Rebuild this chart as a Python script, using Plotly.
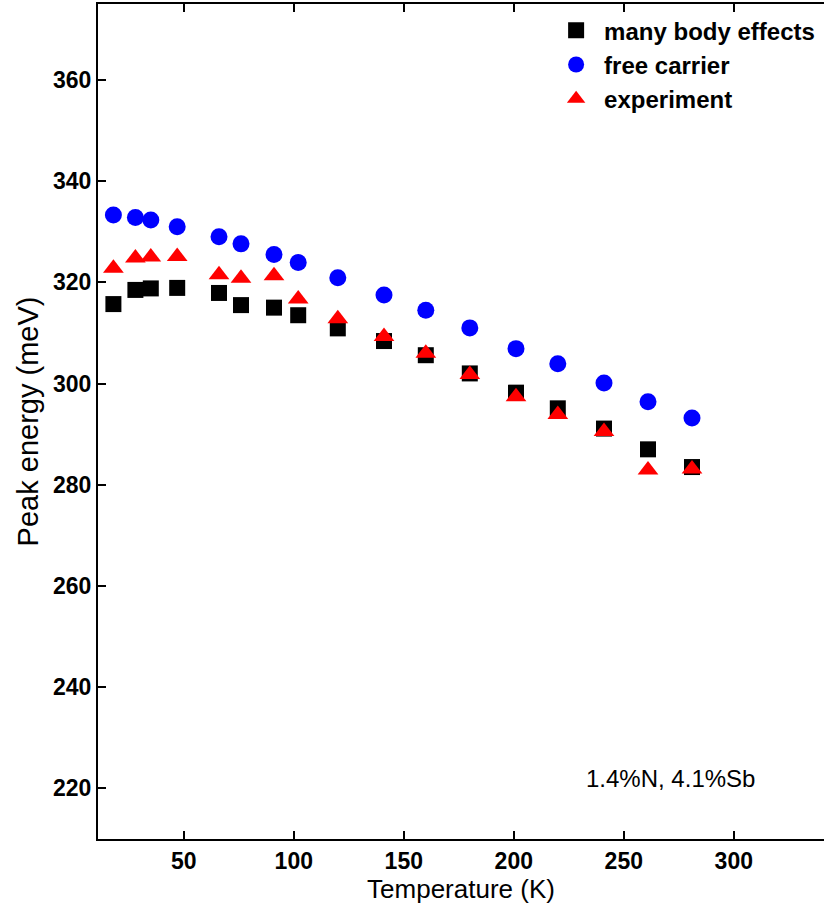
import plotly.graph_objects as go

temperature = [18, 28, 35, 47, 66, 76, 91, 102, 120, 141, 160, 180, 201, 220, 241, 261, 281]
many_body = [315.7, 318.5, 318.8, 318.9, 317.9, 315.5, 315.0, 313.5, 310.9, 308.4,
             305.6, 302.0, 298.2, 295.1, 291.1, 287.0, 283.5]
free_carrier = [333.3, 332.8, 332.3, 331.0, 329.0, 327.6, 325.5, 323.9, 320.9, 317.5,
                314.5, 311.0, 306.9, 303.9, 300.1, 296.4, 293.2]
experiment = [322.8, 324.8, 325.0, 325.1, 321.5, 320.8, 321.3, 316.7, 312.8, 309.3,
              306.0, 301.8, 297.4, 293.9, 290.5, 282.9, 283.1]

x_ticks = [50, 100, 150, 200, 250, 300]
y_ticks = [220, 240, 260, 280, 300, 320, 340, 360]
x_range = [11, 341]
y_range = [210, 375]

FONT = "Liberation Sans, Arial, sans-serif"

fig = go.Figure()
fig.add_trace(go.Scatter(x=temperature, y=many_body, mode="markers", name="many body effects",
                         marker=dict(symbol="square", size=16, color="black")))
fig.add_trace(go.Scatter(x=temperature, y=free_carrier, mode="markers", name="free carrier",
                         marker=dict(symbol="circle", size=17, color="blue")))
fig.add_trace(go.Scatter(x=temperature, y=experiment, mode="markers", name="experiment",
                         marker=dict(symbol="triangle-up", size=18, color="red")))

fig.update_layout(
    width=824, height=906, autosize=False,
    paper_bgcolor="white", plot_bgcolor="white",
    margin=dict(l=98, r=0, t=4, b=67),
    font=dict(family=FONT, color="black"),
    showlegend=True,
    legend=dict(x=0.62, y=0.995, xanchor="left", yanchor="top",
                bgcolor="rgba(0,0,0,0)", itemwidth=46,
                font=dict(family=FONT, size=24, weight="bold", color="black"),
                tracegroupgap=0),
    xaxis=dict(range=x_range, tickvals=x_ticks, ticks="inside", ticklen=8, tickwidth=2,
               tickcolor="black", showline=True, linewidth=2, linecolor="black",
               mirror="allticks", showgrid=False, zeroline=False, automargin=False,
               tickfont=dict(family=FONT, size=23, weight="bold"),
               title=dict(text="Temperature (K)", font=dict(family=FONT, size=26), standoff=2)),
    yaxis=dict(range=y_range, tickvals=y_ticks, ticks="inside", ticklen=8, tickwidth=2,
               tickcolor="black", showline=True, linewidth=2, linecolor="black",
               mirror=False, showgrid=False, zeroline=False, automargin=False,
               tickfont=dict(family=FONT, size=23, weight="bold"),
               title=dict(text="Peak energy (meV)", font=dict(family=FONT, size=29), standoff=6)),
    yaxis2=dict(overlaying="y", side="right", matches="y", range=y_range, tickvals=y_ticks,
                ticks="inside", ticklen=2, tickwidth=2, tickcolor="black",
                showticklabels=False, showline=False, showgrid=False, zeroline=False),
)

fig.add_annotation(text="1.4%N, 4.1%Sb", xref="paper", yref="paper", x=0.669, y=0.073,
                   xanchor="left", yanchor="middle", showarrow=False,
                   font=dict(family=FONT, size=24, color="black"))

fig.write_html("out.html")
